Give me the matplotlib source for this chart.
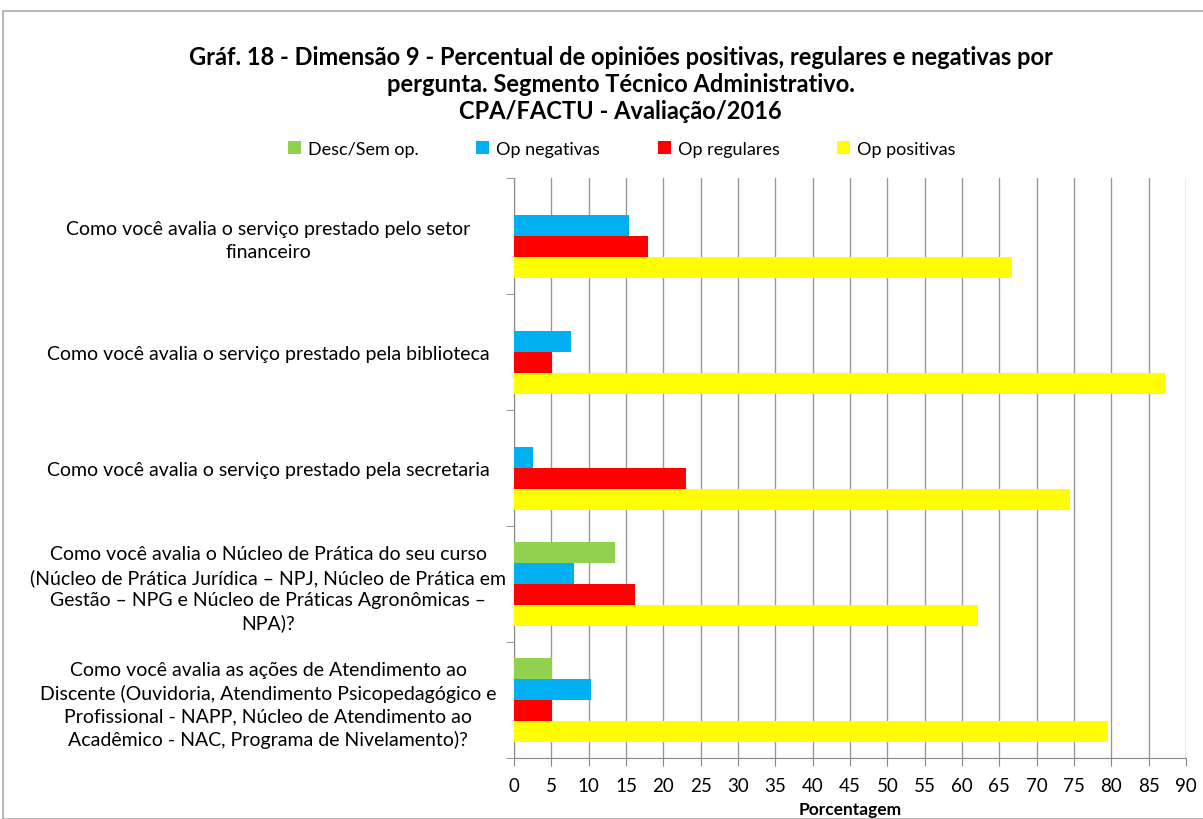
import numpy as np
import matplotlib as mpl
mpl.use('Agg')
import matplotlib.pyplot as plt
from matplotlib.patches import Rectangle

plt.rcParams['font.family'] = ['Lato', 'DejaVu Sans']

# data
perguntas = [
    "Como você avalia o serviço prestado pelo setor\nfinanceiro",
    "Como você avalia o serviço prestado pela biblioteca",
    "Como você avalia o serviço prestado pela secretaria",
    "Como você avalia o Núcleo de Prática do seu curso\n(Núcleo de Prática Jurídica – NPJ, Núcleo de Prática em\nGestão – NPG e Núcleo de Práticas Agronômicas –\nNPA)?",
    "Como você avalia as ações de Atendimento ao\nDiscente (Ouvidoria, Atendimento Psicopedagógico e\nProfissional - NAPP, Núcleo de Atendimento ao\nAcadêmico - NAC, Programa de Nivelamento)?",
]
series = ["Desc/Sem op.", "Op negativas", "Op regulares", "Op positivas"]
desc_sem_op  = [0, 0, 0, 13.5, 5.1]
op_negativas = [15.4, 7.7, 2.6, 8.1, 10.3]
op_regulares = [17.9, 5.1, 23.1, 16.2, 5.1]
op_positivas = [66.7, 87.2, 74.4, 62.2, 79.5]
cores = ['#92d050', '#00b0f0', '#ff0000', '#ffff00']

fig = plt.figure(figsize=(12.03, 8.2), dpi=100)
ax = fig.add_axes([514/1203, 1-759/820, 672/1203, 580/820])

y = np.arange(len(perguntas))
h = 0.179
valores = [desc_sem_op, op_negativas, op_regulares, op_positivas]
for i, (nome, vals, cor) in enumerate(zip(series, valores, cores)):
    ax.barh(y + (i - 1.5)*h, vals, height=h, color=cor, label=nome, zorder=3)

ax.set_xlim(0, 90)
ax.set_ylim(len(perguntas)-0.5, -0.5)
ax.set_xticks(np.arange(0, 91, 5))
ax.tick_params(axis='x', labelsize=13.5, length=6, color='#888888', pad=8)
ax.set_yticks(y)
ax.set_yticklabels(perguntas, fontsize=14, ha='center', linespacing=1.38)
ax.tick_params(axis='y', length=0, pad=177)
ax.set_yticks(np.arange(-0.5, len(perguntas)), minor=True)
ax.tick_params(axis='y', which='minor', length=6, color='#888888')
ax.grid(axis='x', color='#999999', linewidth=1, zorder=0)
for s in ['top', 'right']:
    ax.spines[s].set_visible(False)
for s in ['left', 'bottom']:
    ax.spines[s].set_color('#888888')
ax.set_xlabel('Porcentagem', fontsize=12.5, fontweight='bold', labelpad=5)

fig.text(0.516, 0.897, "Gráf. 18 - Dimensão 9 - Percentual de opiniões positivas, regulares e negativas por\n"
         "pergunta. Segmento Técnico Administrativo.\nCPA/FACTU - Avaliação/2016",
         ha='center', va='center', fontsize=17, fontweight='bold', linespacing=1.2)

fig.legend(loc='center', bbox_to_anchor=(0.517, 0.817), ncol=4, frameon=False,
           fontsize=13, handlelength=0.7, handleheight=0.7, columnspacing=3.2,
           handletextpad=0.4)

fig.patches.append(Rectangle((3/1203, 0), 1.1, 1-12/820, transform=fig.transFigure,
                             fill=False, edgecolor='#aaaaaa', linewidth=1.2))

plt.savefig('out.png', dpi=100)
